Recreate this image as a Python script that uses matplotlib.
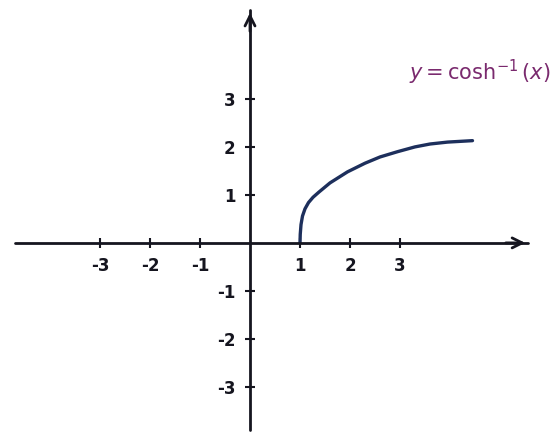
import numpy as np
import matplotlib.pyplot as plt

plt.rcParams['axes.unicode_minus'] = False

# points traced along the curve y = cosh^-1(x)
x_vals = [1.0, 1.005, 1.02, 1.05, 1.1, 1.17, 1.26, 1.38, 1.6, 1.95, 2.3, 2.6, 2.95, 3.3, 3.6, 3.95, 4.45]
y_vals = [0.0, 0.18, 0.38, 0.56, 0.71, 0.84, 0.95, 1.06, 1.25, 1.48, 1.66, 1.79, 1.90, 2.00, 2.06, 2.10, 2.13]

x_ticks = [-3, -2, -1, 1, 2, 3]
y_ticks = [-3, -2, -1, 1, 2, 3]

# how far the drawn axes reach
x_axis_ends = (-4.7, 5.56)
y_axis_ends = (-3.9, 4.85)

ink = '#15151f'
curve_col = '#1d2f5c'
label_col = '#7a2a6e'

fig = plt.figure(figsize=(5.58, 4.33), dpi=100)
ax = fig.add_axes([0, 0, 1, 1])
ax.set_xlim(-5.0, 6.16)
ax.set_ylim(-3.96, 5.06)

# axes through the origin
for side in ['top', 'right']:
    ax.spines[side].set_visible(False)
ax.spines['left'].set_position(('data', 0))
ax.spines['bottom'].set_position(('data', 0))
ax.spines['bottom'].set_bounds(*x_axis_ends)
ax.spines['left'].set_bounds(*y_axis_ends)
for side in ['left', 'bottom']:
    ax.spines[side].set_linewidth(2.0)
    ax.spines[side].set_color(ink)
    ax.spines[side].set_capstyle('round')

# open arrow heads at the ends
arrow = dict(arrowstyle='->', color=ink, lw=2.0, mutation_scale=18)
ax.annotate('', xy=(x_axis_ends[1], 0), xytext=(x_axis_ends[1] - 0.5, 0), arrowprops=arrow)
ax.annotate('', xy=(0, y_axis_ends[1]), xytext=(0, y_axis_ends[1] - 0.5), arrowprops=arrow)

ax.set_xticks(x_ticks)
ax.set_yticks(y_ticks)
ax.tick_params(direction='inout', length=7, width=1.5, color=ink,
               labelsize=12, labelcolor=ink, pad=7)
for lab in ax.get_xticklabels() + ax.get_yticklabels():
    lab.set_fontweight('bold')

ax.plot(x_vals, y_vals, color=curve_col, lw=2.4, solid_capstyle='round',
        solid_joinstyle='round')

ax.text(4.6, 3.55, r'$y = \cosh^{-1}(x)$', color=label_col, fontsize=15,
        ha='center', va='center')

fig.savefig('out.png', dpi=100, facecolor='white')
